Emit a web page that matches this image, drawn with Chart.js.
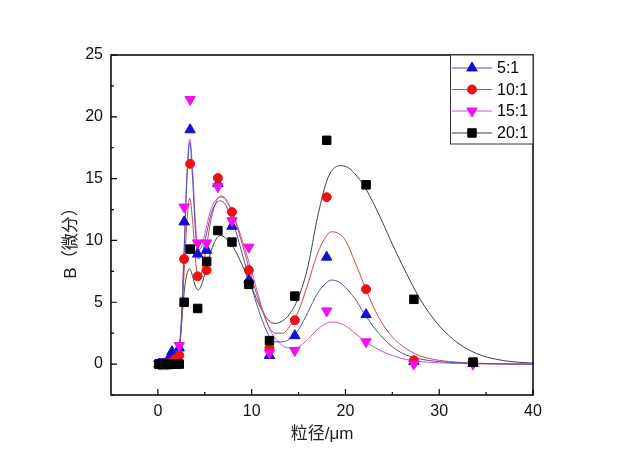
<!DOCTYPE html>
<html>
<head>
<meta charset="utf-8">
<script src="https://cdn.jsdelivr.net/npm/chart.js@4.4.1/dist/chart.umd.min.js"></script>
<style>
  body { margin: 0; background: #fff; }
</style>
</head>
<body>
<canvas id="chart" width="620" height="474"></canvas>
<script>
// measured points (particle size bins, um)
const seriesNames = ['5:1', '10:1', '15:1', '20:1'];
const sizeBins = [0.1, 0.2, 0.3, 0.45, 0.6, 0.8, 1.0, 1.22, 1.5, 1.85, 2.28, 2.8, 3.44, 4.24, 5.2, 6.4, 7.9, 9.7, 11.9, 14.6, 18.0, 22.2, 27.3, 33.6];
const b5  = [0, 0, 0, 0, 0, 0.05, 0.2, 0.5, 1.0, 0.6, 1.3, 11.5, 18.95, 8.9, 9.2, 14.6, 11.15, 6.8, 0.7, 2.3, 8.65, 4.0, 0.2, 0.05];
const b10 = [0, 0, 0, 0, 0, 0, 0.05, 0.1, 0.2, 0.4, 0.7, 8.5, 16.2, 7.1, 7.6, 15.05, 12.3, 7.6, 1.3, 3.55, 13.5, 6.05, 0.3, 0.1];
const b15 = [0, 0, 0, 0, 0, 0, 0, 0, 0.05, 0.1, 1.5, 12.7, 21.4, 9.8, 9.8, 14.35, 11.6, 9.46, 0.9, 1.1, 4.3, 1.8, 0.0, 0.0];
const b20 = [0, 0, 0, 0, 0, 0, 0, 0, 0, 0, 0, 5.0, 9.3, 4.5, 8.3, 10.8, 9.87, 6.45, 1.9, 5.5, 18.1, 14.5, 5.24, 0.16];

// fitted curves
const fitX  = [0, 1, 1.8, 2.2, 2.5, 2.8, 3.1, 3.4, 3.7, 4.0, 4.3, 4.7, 5.2, 5.7, 6.2, 6.7, 7.2, 8, 9, 10, 11, 12, 12.6, 13.3, 14, 15, 16, 17, 18, 18.5, 19.4, 20, 21, 22, 23, 24, 25, 26, 27, 28, 30, 32, 34, 36, 38, 40];
const fit5  = [0, 0.1, 0.3, 0.9, 3.5, 9.0, 15.0, 17.9, 15.0, 10.8, 8.5, 8.9, 10.6, 12.2, 13.0, 13.2, 12.9, 11.5, 8.9, 6.2, 3.8, 2.1, 1.8, 1.8, 2.0, 2.8, 4.2, 5.7, 6.6, 6.8, 6.6, 6.2, 5.3, 4.1, 3.0, 2.1, 1.4, 0.9, 0.6, 0.4, 0.2, 0.1, 0.05, 0.02, 0, 0];
const fit10 = [0, 0, 0.2, 0.7, 3.0, 7.5, 11.5, 13.4, 11.6, 8.5, 7.0, 7.5, 9.6, 11.8, 13.1, 13.6, 13.4, 12.1, 9.7, 7.0, 4.6, 2.8, 2.5, 2.5, 3.0, 4.3, 6.5, 8.9, 10.4, 10.7, 10.5, 10.0, 8.3, 6.4, 4.6, 3.2, 2.2, 1.5, 1.0, 0.65, 0.3, 0.15, 0.07, 0.03, 0.01, 0];
const fit15 = [0, 0, 0.1, 0.8, 3.5, 9.5, 15.5, 18.2, 15.8, 11.5, 9.2, 9.6, 11.2, 12.6, 13.3, 13.5, 13.3, 12.2, 10.0, 7.5, 4.8, 2.7, 2.0, 1.5, 1.3, 1.4, 2.0, 2.8, 3.3, 3.4, 3.3, 3.1, 2.5, 1.9, 1.4, 1.0, 0.7, 0.45, 0.3, 0.2, 0.1, 0.05, 0.02, 0, 0, 0];
const fit20 = [0, 0, 0.1, 0.6, 3.0, 5.8, 7.3, 7.7, 7.1, 6.3, 6.0, 6.5, 7.9, 9.2, 10.1, 10.4, 10.2, 9.5, 8.0, 6.2, 4.5, 3.4, 3.3, 3.5, 4.0, 5.4, 7.9, 11.8, 14.8, 15.6, 16.05, 16.0, 15.4, 14.4, 13.0, 11.4, 9.7, 8.1, 6.6, 5.2, 3.1, 1.7, 0.85, 0.4, 0.18, 0.08];

const yTitle = 'B（微分）';
const xTitle = '粒径/μm';

const FONT = "'Liberation Sans', 'Noto Sans CJK SC', Arial, sans-serif";
const TICK_FONT = "'Liberation Sans Narrow', 'Liberation Sans', Arial, sans-serif";

function pts(xs, ys) {
    return xs.map((x, i) => ({ x: x, y: ys[i] }));
}

const pointSets = [
    { name: seriesNames[0], data: b5,  style: 'triangle', rot: 0,   r: 6,   color: '#1010d0', line: '#5050b8' },
    { name: seriesNames[1], data: b10, style: 'circle',   rot: 0,   r: 4.5, color: '#ee1111', line: '#d04848' },
    { name: seriesNames[2], data: b15, style: 'triangle', rot: 180, r: 6,   color: '#f010f0', line: '#d050d0' },
    { name: seriesNames[3], data: b20, style: 'rect',     rot: 0,   r: 6,   color: '#000000', line: '#404040' }
];
const fits = [fit5, fit10, fit15, fit20];

let datasets = [];
// markers first so they sit on top of the curves
for (let s of pointSets.slice().reverse()) {
    datasets.push({
        label: s.name,
        data: pts(sizeBins, s.data),
        showLine: false,
        pointStyle: s.style,
        rotation: s.rot,
        pointRadius: s.r,
        pointHoverRadius: s.r,
        backgroundColor: s.color,
        borderColor: s.color,
        borderWidth: 1
    });
}
for (let i = 0; i < fits.length; i++) {
    datasets.push({
        label: 'fit ' + seriesNames[i],
        data: pts(fitX, fits[i]),
        showLine: true,
        pointRadius: 0,
        borderColor: pointSets[i].line,
        borderWidth: 1,
        cubicInterpolationMode: 'monotone',
        fill: false
    });
}

// frame, inward ticks, y title and the boxed legend
const decor = {
    id: 'decor',
    afterDraw(chart) {
        const ctx = chart.ctx;
        const a = chart.chartArea;
        const xs = chart.scales.x, ys = chart.scales.y;
        ctx.save();
        ctx.strokeStyle = '#000';
        ctx.lineWidth = 1.5;
        ctx.strokeRect(a.left, a.top, a.right - a.left, a.bottom - a.top);

        ctx.lineWidth = 1.2;
        ctx.beginPath();
        for (let v = 0; v <= 40; v += 5) {
            const px = xs.getPixelForValue(v);
            const len = v % 10 === 0 ? 6 : 3;
            ctx.moveTo(px, a.bottom);
            ctx.lineTo(px, a.bottom - len);
        }
        for (let v = -2.5; v <= 25; v += 2.5) {
            const py = ys.getPixelForValue(v);
            const len = v % 5 === 0 ? 6 : 3;
            ctx.moveTo(a.left, py);
            ctx.lineTo(a.left + len, py);
        }
        ctx.stroke();

        // y axis title
        ctx.save();
        ctx.translate(71, 239);
        ctx.rotate(-Math.PI / 2);
        ctx.font = '17px ' + FONT;
        ctx.fillStyle = '#222';
        ctx.textAlign = 'center';
        ctx.textBaseline = 'middle';
        ctx.fillText(yTitle, 0, 0);
        ctx.restore();

        // legend box
        const bx = 450, by = a.top, bw = a.right - 450, bh = 89;
        ctx.fillStyle = '#fff';
        ctx.fillRect(bx, by, bw, bh);
        ctx.lineWidth = 1;
        ctx.strokeStyle = '#333';
        ctx.strokeRect(bx + 0.5, by, bw - 0.5, bh);
        ctx.font = '16px ' + FONT;
        ctx.textBaseline = 'middle';
        ctx.textAlign = 'left';
        const rows = [68, 89.5, 111, 133];
        pointSets.forEach((s, i) => {
            const y = by + (rows[i] - 55);
            ctx.strokeStyle = s.line;
            ctx.lineWidth = 1;
            ctx.beginPath();
            ctx.moveTo(452, y);
            ctx.lineTo(492, y);
            ctx.stroke();
            ctx.fillStyle = s.color;
            ctx.strokeStyle = s.color;
            Chart.helpers.drawPoint(ctx, { pointStyle: s.style, rotation: s.rot, radius: s.r, borderWidth: 1 }, 472, y);
            ctx.fillStyle = '#000';
            ctx.fillText(s.name, 497, y + 1);
        });
        ctx.restore();
    }
};

new Chart(document.getElementById('chart'), {
    type: 'scatter',
    data: { datasets: datasets },
    options: {
        responsive: false,
        animation: false,
        layout: { padding: { top: 55, right: 87, left: 0, bottom: 0 } },
        plugins: {
            legend: { display: false },
            tooltip: { enabled: false }
        },
        scales: {
            x: {
                type: 'linear',
                min: -5,
                max: 40,
                grid: { display: false, drawTicks: false },
                border: { display: false },
                ticks: { stepSize: 10, padding: 7, color: '#111', font: { family: TICK_FONT, size: 16 } },
                afterBuildTicks: s => { s.ticks = s.ticks.filter(t => t.value % 10 === 0); },
                afterFit: s => { s.height = 79; },
                title: {
                    display: true,
                    text: xTitle,
                    color: '#222',
                    font: { family: FONT, size: 17 },
                    padding: { top: 0, bottom: 29 }
                }
            },
            y: {
                type: 'linear',
                min: -2.5,
                max: 25,
                grid: { display: false, drawTicks: false },
                border: { display: false },
                ticks: { stepSize: 5, padding: 8, color: '#111', font: { family: TICK_FONT, size: 16 } },
                afterBuildTicks: s => { s.ticks = s.ticks.filter(t => t.value % 5 === 0); },
                afterFit: s => { s.width = 111; },
                title: { display: false }
            }
        }
    },
    plugins: [decor]
});
</script>
</body>
</html>
